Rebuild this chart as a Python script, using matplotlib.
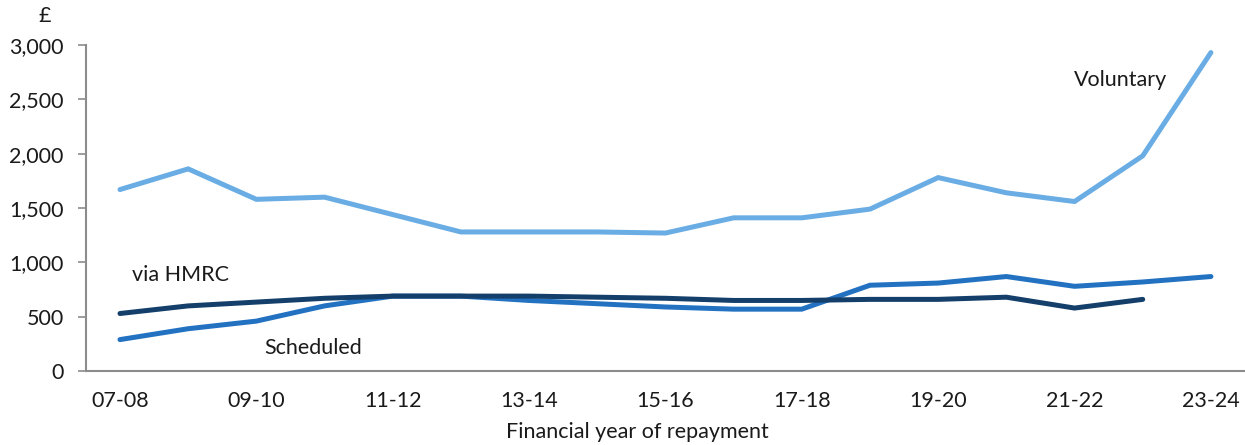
import matplotlib
matplotlib.use("Agg")
import matplotlib.pyplot as plt
from matplotlib.ticker import FuncFormatter

plt.rcParams["font.family"] = ["Lato", "DejaVu Sans"]

years = ["07-08", "08-09", "09-10", "10-11", "11-12", "12-13", "13-14", "14-15",
         "15-16", "16-17", "17-18", "18-19", "19-20", "20-21", "21-22", "22-23", "23-24"]
voluntary = [1670, 1860, 1580, 1600, 1440, 1280, 1280, 1280, 1270, 1410, 1410,
             1490, 1780, 1640, 1560, 1980, 2930]
scheduled = [290, 390, 460, 600, 690, 690, 650, 620, 590, 570, 570,
             790, 810, 870, 780, 820, 870]
via_hmrc = [530, 600, 635, 670, 690, 690, 690, 680, 670, 650, 650,
            660, 660, 680, 580, 660]

c_vol = "#6aade4"
c_sch = "#2372c1"
c_hmrc = "#143f6a"
grey = "#8c8c8c"
txt = "#1a1a1a"
fs = 15.5
lw = 3.6

fig = plt.figure(figsize=(12.45, 4.45), dpi=100)
ax = fig.add_axes([0.069, 0.166, 0.931, 0.733])

x = list(range(len(years)))
ax.plot(x, voluntary, color=c_vol, lw=lw, solid_capstyle="round", solid_joinstyle="miter")
ax.plot(x, scheduled, color=c_sch, lw=lw, solid_capstyle="round", solid_joinstyle="miter")
ax.plot(x[:len(via_hmrc)], via_hmrc, color=c_hmrc, lw=lw, solid_capstyle="round",
        solid_joinstyle="miter")

ax.set_xlim(-0.5, 16.5)
ax.set_ylim(0, 3000)
ax.set_yticks(range(0, 3001, 500))
ax.yaxis.set_major_formatter(FuncFormatter(lambda v, p: f"{int(v):,}"))
ax.set_xticks(x[::2])
ax.set_xticklabels(years[::2])

for s in ["top", "right"]:
    ax.spines[s].set_visible(False)
for s in ["left", "bottom"]:
    ax.spines[s].set_color(grey)
    ax.spines[s].set_linewidth(1.5)
ax.tick_params(axis="y", length=6, width=1.2, color=grey, labelsize=fs, pad=10,
               labelcolor=txt)
ax.tick_params(axis="x", length=0, labelsize=fs, pad=14, labelcolor=txt)

ax.text(13.99, 2677, "Voluntary", fontsize=fs, va="center", ha="left", color=txt)
ax.text(0.18, 883, "via HMRC", fontsize=fs, va="center", ha="left", color=txt)
ax.text(2.11, 212, "Scheduled", fontsize=fs, va="center", ha="left", color=txt)

fig.text(45 / 1245, 1 - 16 / 445, "£", fontsize=fs, ha="center", va="center", color=txt)
fig.text(637 / 1245, 1 - 432 / 445, "Financial year of repayment", fontsize=fs,
         ha="center", va="center", color=txt)

fig.savefig("out.png", dpi=100)
